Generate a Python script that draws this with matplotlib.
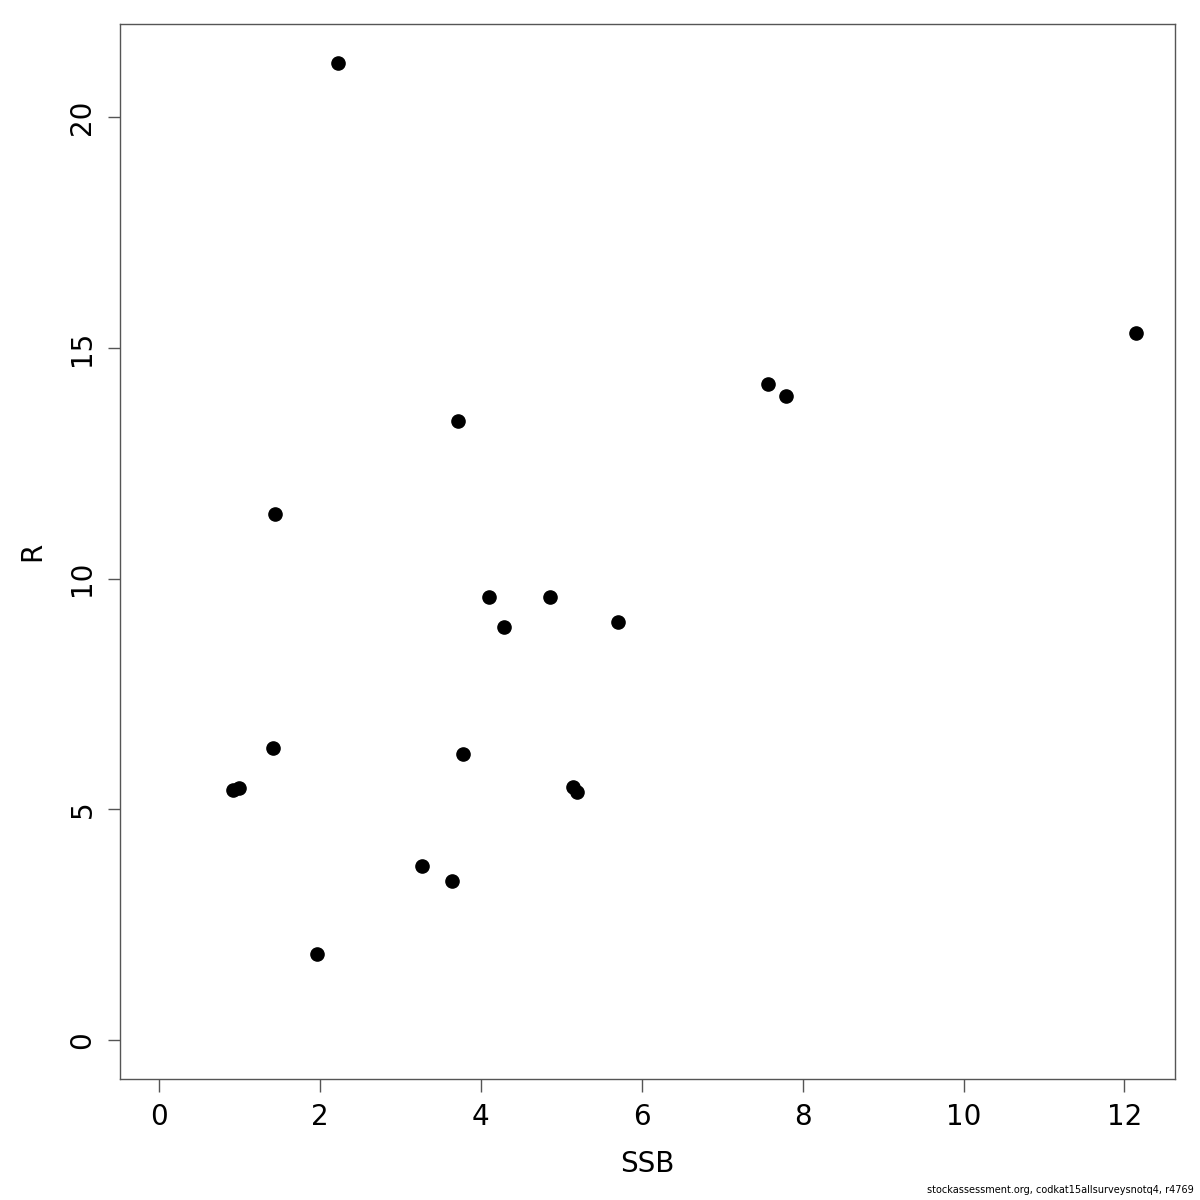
import matplotlib
matplotlib.use("Agg")
import matplotlib.pyplot as plt

# spawning stock biomass vs recruitment
ssb = [2.22, 12.14, 7.57, 7.79, 3.71, 1.44, 4.10, 4.86, 5.71, 4.29,
       1.42, 3.78, 0.92, 0.99, 5.14, 5.19, 3.27, 3.64, 1.96]
rec = [21.17, 15.32, 14.21, 13.95, 13.41, 11.40, 9.60, 9.60, 9.06, 8.95,
       6.33, 6.20, 5.42, 5.46, 5.48, 5.37, 3.77, 3.45, 1.86]
xticks = [0, 2, 4, 6, 8, 10, 12]
yticks = [0, 5, 10, 15, 20]

fig = plt.figure(figsize=(12, 12), dpi=100)
ax = fig.add_axes([0.1, 0.1008, 0.879, 0.879])

ax.plot(ssb, rec, "o", color="black", markersize=9.5, linestyle="none")

# R style 4% padding around 0..max
xmax = max(ssb)
ymax = max(rec)
ax.set_xlim(-0.04 * xmax, xmax * 1.04)
ax.set_ylim(-0.04 * ymax, ymax * 1.04)

ax.set_xticks(xticks)
ax.set_yticks(yticks)
ax.set_xticklabels([str(t) for t in xticks], fontsize=20)
ax.set_yticklabels([str(t) for t in yticks], fontsize=20, rotation=90, va="center")
ax.tick_params(direction="out", length=9, width=1, color="#555555", pad=8)
for s in ax.spines.values():
    s.set_color("#555555")
    s.set_linewidth(1)

ax.set_xlabel("SSB", fontsize=20, labelpad=14)
ax.set_ylabel("R", fontsize=20, labelpad=16)

fig.text(0.995, 0.004, "stockassessment.org, codkat15allsurveysnotq4, r4769",
         ha="right", va="bottom", fontsize=7)

fig.savefig("out.png", dpi=100)
